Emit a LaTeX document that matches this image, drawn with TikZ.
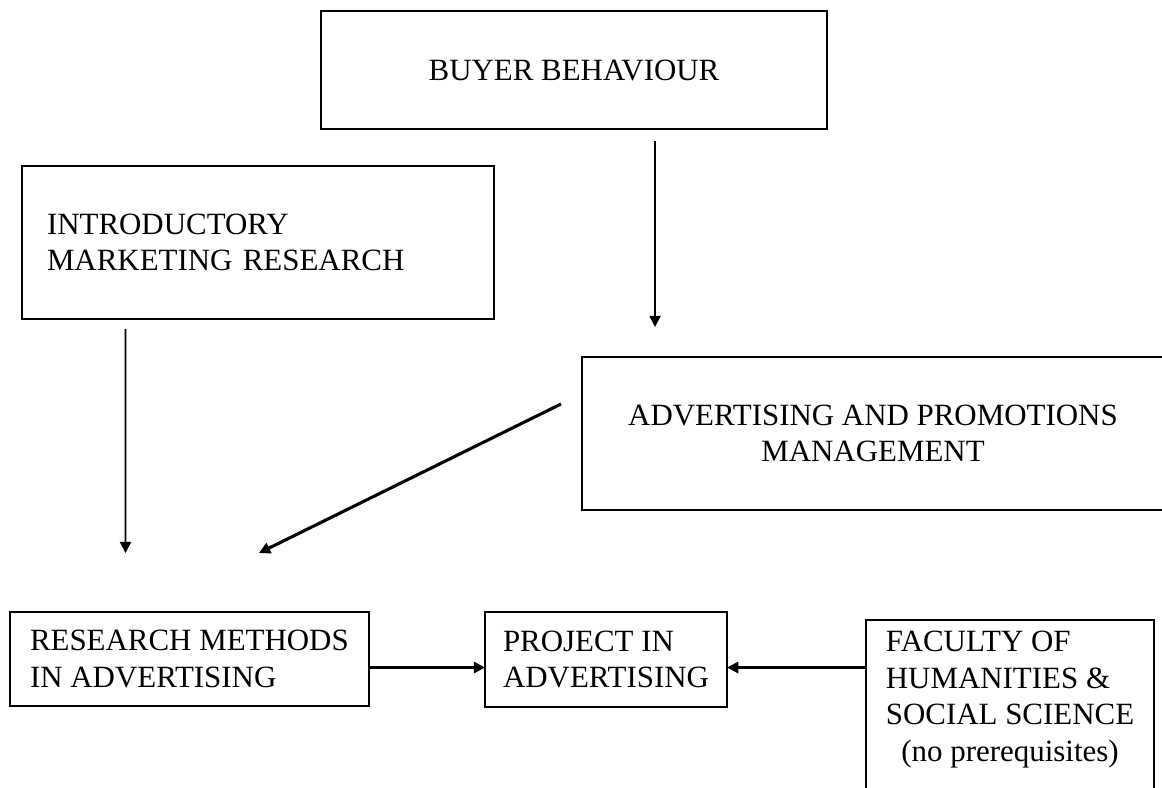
\documentclass[tikz,border=0pt]{standalone}
\usepackage{fontspec}
\setmainfont{Liberation Serif}
\usepackage{tikz}
\usetikzlibrary{arrows.meta}

\begin{document}
\begin{tikzpicture}[font=\fontsize{22}{26}\selectfont]
\tikzstyle{course}=[draw, rectangle, line width=1.7pt, anchor=north west, inner sep=0pt, outer sep=0pt]
\tikzstyle{link}=[draw, -{Triangle[length=8pt, width=8pt]}, line width=1.3pt]

\useasboundingbox (0, 0) rectangle (29.05, -19.675);

\node[course, minimum width=12.65cm, minimum height=2.95cm](buyer) at (8.025, -0.275) {BUYER BEHAVIOUR};
\node[course, minimum width=11.8cm, minimum height=3.825cm, text width=10.55cm, align=left](intro) at (0.55, -4.15) {INTRODUCTORY\\MARKETING RESEARCH};
\node[course, minimum width=14.55cm, minimum height=3.825cm, align=center](adv) at (14.55, -8.925) {ADVERTISING AND PROMOTIONS\\MANAGEMENT};

\node[course, inner xsep=0.5cm, minimum height=2.35cm, align=left](research) at (0.25, -15.3) {RESEARCH METHODS\\IN ADVERTISING};
\node[course, inner xsep=0.45cm, minimum height=2.375cm, align=left](project) at (12.125, -15.3) {PROJECT IN\\ADVERTISING};
\node[course, inner xsep=0.4cm, inner ysep=0.15cm, minimum width=7.2cm](faculty) at (21.65, -15.5) {\begin{tabular}{@{}l@{}}FACULTY OF\\HUMANITIES \&\\SOCIAL SCIENCE\\\multicolumn{1}{@{}c@{}}{(no prerequisites)\rule[-1.3cm]{0pt}{0pt}}\end{tabular}};

\draw[link] ([xshift=2.025cm, yshift=-0.3cm]buyer.south) -- ([xshift=-5.45cm, yshift=0.75cm]adv.north);
\draw[link] ([xshift=-3.3125cm, yshift=-0.25cm]intro.south) -- ([xshift=2.8875cm, yshift=1.475cm]research.north west);
\draw[link, line width=2.2pt] ([xshift=-0.525cm, yshift=0.7375cm]adv.west) -- ([xshift=6.225cm, yshift=1.475cm]research.north west);

\coordinate (project-in) at ([yshift=-0.2cm]project.west);
\coordinate (project-out) at ([yshift=-0.2cm]project.east);
\draw[link, line width=1.7pt] (research.east |- project-in) -- (project-in);
\draw[link, line width=1.7pt] (faculty.west |- project-out) -- (project-out);

\end{tikzpicture}
\end{document}
